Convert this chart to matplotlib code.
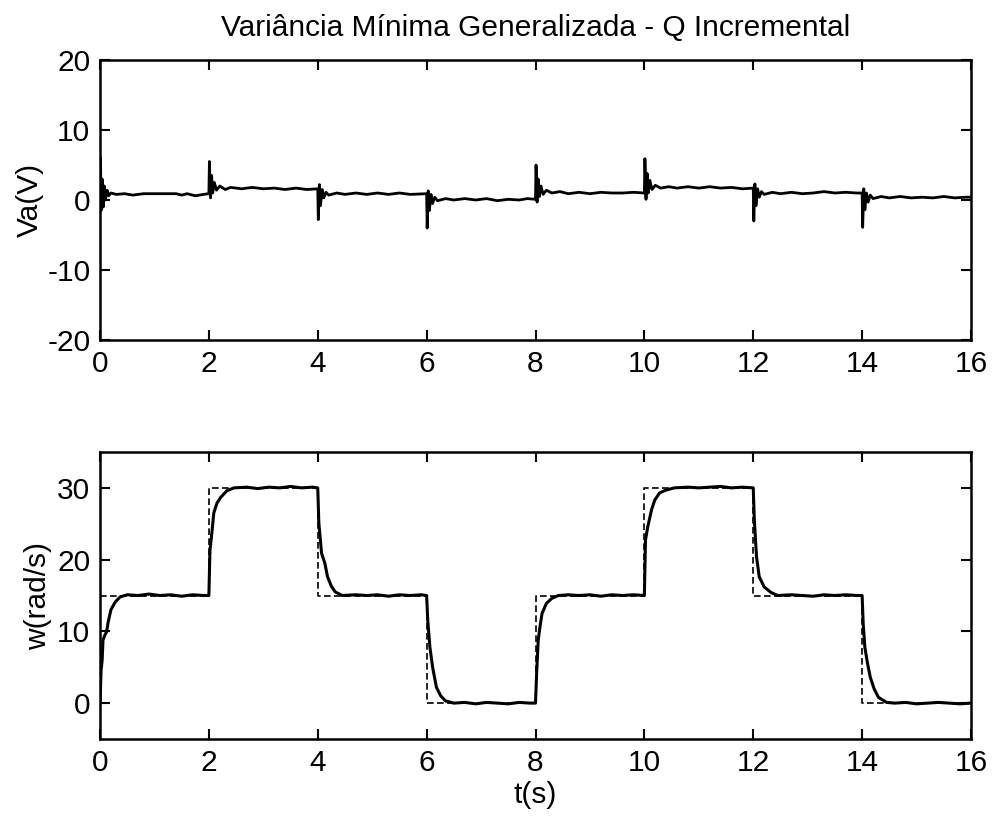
import matplotlib
matplotlib.use("Agg")
import matplotlib.pyplot as plt

plt.rcParams['font.family'] = ['Liberation Sans', 'DejaVu Sans']
plt.rcParams['axes.unicode_minus'] = False

title = "Variância Mínima Generalizada - Q Incremental"

# Top: armature voltage Va(V)
va_t = [0.0, 0.01, 0.02, 0.04, 0.06, 0.08, 0.10, 0.13, 0.16, 0.2, 0.3, 0.45, 0.6, 0.8, 1.0, 1.2, 1.4, 1.5, 1.6, 1.75, 1.9, 1.99,
        2.0, 2.01, 2.03, 2.05, 2.07, 2.1, 2.14, 2.2, 2.3, 2.4, 2.6, 2.8, 3.0, 3.2, 3.4, 3.6, 3.8, 3.99,
        4.0, 4.01, 4.03, 4.05, 4.08, 4.11, 4.15, 4.2, 4.35, 4.5, 4.7, 4.9, 5.1, 5.3, 5.5, 5.7, 5.99,
        6.0, 6.01, 6.03, 6.05, 6.08, 6.11, 6.15, 6.2, 6.35, 6.5, 6.7, 6.9, 7.1, 7.3, 7.5, 7.7, 7.85, 7.99,
        8.0, 8.01, 8.03, 8.05, 8.07, 8.1, 8.14, 8.2, 8.3, 8.45, 8.6, 8.8, 9.0, 9.2, 9.4, 9.6, 9.8, 9.99,
        10.0, 10.01, 10.03, 10.05, 10.07, 10.1, 10.14, 10.2, 10.3, 10.45, 10.6, 10.8, 11.0, 11.2, 11.4, 11.6, 11.8, 11.99,
        12.0, 12.01, 12.03, 12.05, 12.08, 12.11, 12.15, 12.2, 12.35, 12.5, 12.7, 12.9, 13.1, 13.3, 13.5, 13.7, 13.9, 13.99,
        14.0, 14.01, 14.03, 14.05, 14.08, 14.11, 14.15, 14.2, 14.35, 14.5, 14.7, 14.9, 15.1, 15.3, 15.5, 15.7, 15.9, 16.0]
va_v = [0.0, 6.0, -1.5, 3.0, -1.0, 2.0, 0.0, 1.4, 0.6, 1.0, 0.8, 0.9, 0.7, 0.9, 0.9, 0.9, 0.9, 0.7, 0.9, 0.6, 0.8, 0.9,
        0.9, 5.5, 0.3, 3.5, 1.0, 2.5, 1.4, 2.0, 1.5, 1.8, 1.6, 1.8, 1.6, 1.7, 1.5, 1.7, 1.5, 1.6,
        1.6, -2.8, 2.2, -0.8, 1.5, 0.3, 1.1, 0.7, 1.0, 0.8, 1.0, 0.8, 1.0, 0.8, 1.0, 0.8, 0.9,
        0.9, -4.0, 1.3, -1.5, 0.8, -0.5, 0.4, -0.1, 0.2, 0.0, 0.2, 0.0, 0.2, -0.1, 0.1, 0.0, 0.2, 0.1,
        0.1, 5.0, -0.3, 3.0, 0.5, 2.0, 0.8, 1.4, 1.0, 1.2, 0.9, 1.1, 0.9, 1.1, 1.0, 1.0, 1.1, 1.0,
        1.0, 5.9, 0.1, 3.8, 1.0, 2.8, 1.5, 2.1, 1.7, 1.9, 1.7, 1.9, 1.7, 1.9, 1.7, 1.8, 1.6, 1.7,
        1.7, -3.0, 2.3, -0.8, 1.6, 0.4, 1.2, 0.8, 1.1, 0.9, 1.1, 0.9, 1.0, 1.2, 1.0, 1.1, 1.0, 1.0,
        1.0, -3.9, 1.6, -1.4, 1.0, -0.3, 0.7, 0.2, 0.5, 0.3, 0.5, 0.3, 0.4, 0.3, 0.5, 0.3, 0.4, 0.4]

# Bottom: reference speed (dashed) and measured speed w(rad/s)
ref_t = [0, 2, 4, 6, 8, 10, 12, 14, 16]
ref_w = [15, 30, 15, 0, 15, 30, 15, 0, 0]

w_t = [0.0, 0.02, 0.04, 0.055, 0.09, 0.12, 0.15, 0.2, 0.28, 0.37, 0.5, 0.7, 0.9, 1.1, 1.3, 1.5, 1.7, 1.9, 2.0,
       2.02, 2.06, 2.09, 2.15, 2.22, 2.33, 2.46, 2.7, 2.9, 3.1, 3.3, 3.5, 3.7, 3.9, 4.0,
       4.02, 4.07, 4.13, 4.18, 4.25, 4.32, 4.45, 4.7, 4.9, 5.1, 5.3, 5.5, 5.7, 5.9, 6.0,
       6.02, 6.06, 6.11, 6.18, 6.26, 6.35, 6.5, 6.7, 6.9, 7.1, 7.3, 7.5, 7.7, 7.9, 8.0,
       8.02, 8.05, 8.08, 8.12, 8.2, 8.3, 8.42, 8.6, 8.8, 9.0, 9.2, 9.4, 9.6, 9.8, 10.0,
       10.02, 10.06, 10.13, 10.19, 10.28, 10.4, 10.55, 10.8, 11.0, 11.2, 11.4, 11.6, 11.8, 12.0,
       12.02, 12.06, 12.11, 12.2, 12.33, 12.45, 12.7, 12.9, 13.1, 13.3, 13.5, 13.7, 13.9, 14.0,
       14.02, 14.05, 14.1, 14.15, 14.22, 14.3, 14.45, 14.6, 14.8, 15.0, 15.2, 15.4, 15.6, 15.8, 16.0]
w_v = [0.0, 4.6, 6.0, 8.8, 9.5, 9.9, 11.3, 13.0, 14.1, 14.8, 15.1, 15.0, 15.2, 15.0, 15.1, 14.9, 15.1, 15.0, 15.0,
       21.3, 24.1, 26.5, 27.9, 28.7, 29.6, 30.0, 30.1, 29.9, 30.1, 30.0, 30.2, 30.0, 30.1, 30.0,
       25.1, 20.9, 19.5, 17.6, 16.3, 15.5, 15.0, 15.1, 15.0, 15.1, 14.9, 15.1, 15.0, 15.1, 15.0,
       11.6, 7.8, 5.0, 2.2, 1.0, 0.3, 0.0, 0.1, -0.1, 0.1, 0.0, -0.1, 0.1, 0.0, 0.0,
       4.0, 8.8, 10.5, 12.5, 13.9, 14.6, 15.0, 15.1, 15.0, 15.1, 14.9, 15.1, 15.0, 15.1, 15.0,
       22.7, 24.5, 26.9, 28.3, 29.3, 29.7, 30.0, 30.1, 30.0, 30.1, 30.2, 30.0, 30.1, 30.0,
       25.5, 20.4, 17.6, 16.2, 15.4, 15.0, 15.1, 15.0, 14.9, 15.1, 15.0, 15.1, 15.0, 15.0,
       11.0, 7.8, 5.5, 3.6, 2.0, 0.8, 0.1, 0.0, 0.1, -0.1, 0.0, 0.1, 0.0, -0.1, 0.0]

x_ticks = [0, 2, 4, 6, 8, 10, 12, 14, 16]
va_ticks = [-20, -10, 0, 10, 20]
w_ticks = [0, 10, 20, 30]

fig = plt.figure(figsize=(9.92, 8.22), dpi=100)
ax1 = fig.add_axes([100/992, 1-340/822, 871/992, 280/822])
ax2 = fig.add_axes([100/992, 1-739/822, 871/992, 287/822])

fs = 21.5
ax1.plot(va_t, va_v, color='black', lw=2.0)
ax1.set_xlim(0, 16)
ax1.set_ylim(-20, 20)
ax1.set_xticks(x_ticks)
ax1.set_yticks(va_ticks)
ax1.set_ylabel("Va(V)", fontsize=fs, labelpad=2)
ax1.set_title(title, fontsize=fs, pad=17)

ax2.step(ref_t, ref_w, where='post', color='black', lw=1.2, linestyle=(0, (4, 2)))
ax2.plot(w_t, w_v, color='black', lw=2.2)
ax2.set_xlim(0, 16)
ax2.set_ylim(-5, 35)
ax2.set_xticks(x_ticks)
ax2.set_yticks(w_ticks)
ax2.set_ylabel("w(rad/s)", fontsize=fs, labelpad=4)
ax2.set_xlabel("t(s)", fontsize=fs, labelpad=3)

for ax in (ax1, ax2):
    ax.tick_params(direction='in', top=True, right=True, length=7, width=1.5,
                   labelsize=fs, pad=7)
    for s in ax.spines.values():
        s.set_linewidth(1.8)

fig.savefig("out.png", dpi=100)
